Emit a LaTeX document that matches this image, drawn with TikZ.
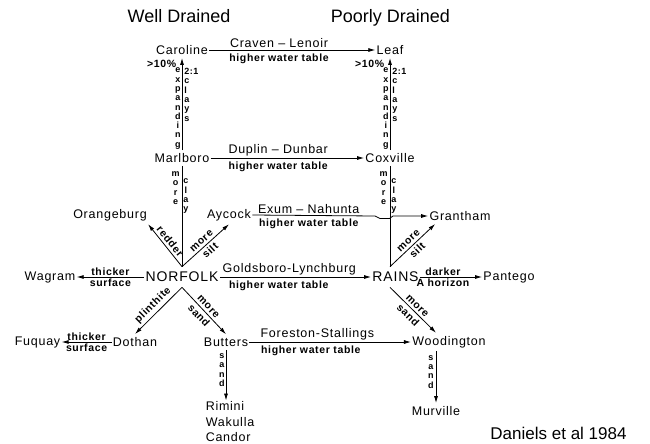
\documentclass[tikz,border=0pt]{standalone}
\usepackage{fontspec}
\setmainfont{Liberation Sans}
\newfontfamily\lettering[LetterSpace=6]{Liberation Sans}
\usetikzlibrary{arrows.meta}

\tikzset{
  soil/.style={font=\lettering\fontsize{12.5}{15.5}\selectfont, inner xsep=1pt, inner ysep=3pt},
  keysoil/.style={font=\lettering\fontsize{14}{16}\selectfont, inner xsep=1pt, inner ysep=5pt},
  pair/.style={font=\lettering\fontsize{12.5}{14}\selectfont, inner sep=1.5pt},
  trend/.style={font=\lettering\bfseries\fontsize{10.5}{11}\selectfont, inner sep=1.5pt},
  letters/.style={font=\lettering\bfseries\fontsize{9}{9.3}\selectfont, align=center, inner sep=0pt},
  heading/.style={font=\fontsize{18}{20}\selectfont, anchor=base},
}

\begin{document}
\begin{tikzpicture}[x=10pt, y=-10pt, line width=0.8pt, >={Latex[length=7pt,width=4pt]}]
    \useasboundingbox (0,0) rectangle (65,44.4);
    % Drainage sequence of soils around Norfolk and Rains

    % Headings
    \node[heading] (welltitle) at (17.9,2.25) {Well Drained};
    \node[heading] (poortitle) at (39.05,2.25) {Poorly Drained};

    % Well drained soils
    \node[soil] (caroline) at (18.2,5.0) {Caroline};
    \node[soil] (marlboro) at (18.2,15.8) {Marlboro};
    \node[soil] (orangeburg) at (11.0,21.5) {Orangeburg};
    \node[soil] (aycock) at (22.9,21.5) {Aycock};
    \node[keysoil] (norfolk) at (18.2,27.7) {NORFOLK};
    \node[soil] (wagram) at (5.0,27.7) {Wagram};
    \node[soil] (dothan) at (13.5,34.2) {Dothan};
    \node[soil] (fuquay) at (3.75,34.2) {Fuquay};
    \node[soil] (butters) at (22.6,34.2) {Butters};
    \node[soil, align=left, inner ysep=1pt] (rimini) at (23.0,42.2) {Rimini\\Wakulla\\Candor};

    % Poorly drained soils
    \node[soil] (leaf) at (39.0,5.0) {Leaf};
    \node[soil] (coxville) at (39.0,15.8) {Coxville};
    \node[soil] (grantham) at (46.0,21.6) {Grantham};
    \node[keysoil] (rains) at (39.55,27.7) {RAINS};
    \node[soil] (pantego) at (50.9,27.7) {Pantego};
    \node[soil] (woodington) at (44.9,34.2) {Woodington};
    \node[soil] (murville) at (43.6,41.1) {Murville};
    \coordinate (rainsN) at (rains.north -| coxville.south);
    \coordinate (rainsS) at (rains.south -| coxville.south);

    % Source
    \node[font=\fontsize{17}{19}\selectfont] (source) at (55.85,43.3) {Daniels et al 1984};

    % Higher water table
    \draw[->] (caroline) -- (leaf)
        node[pair, pos=0.42, above] {Craven – Lenoir}
        node[trend, pos=0.42, below=1.5pt] {higher water table};
    \draw[->] (marlboro) -- (coxville)
        node[pair, pos=0.44, above] {Duplin – Dunbar}
        node[trend, pos=0.44, below=1.5pt] {higher water table};
    \draw[->] (aycock.east) -- (37.5,21.6)
        node[pair, pos=0.46, above] {Exum – Nahunta}
        node[trend, pos=0.46, below=1.5pt] {higher water table}
        to[out=0,in=180] (38.0,21.85) -- (38.95,21.85)
        to[out=0,in=180] (39.3,21.6) -- (grantham.west);
    \draw[->] (norfolk) -- (rains)
        node[pair, pos=0.46, above] {Goldsboro-Lynchburg}
        node[trend, pos=0.39, below=1.5pt] {higher water table};
    \draw[->] (butters) -- (woodington)
        node[pair, pos=0.42, above] {Foreston-Stallings}
        node[trend, pos=0.38, below=1.5pt] {higher water table};

    % Clay
    \draw[->] (marlboro) -- (caroline)
        node[letters, pos=0.45, left=1pt] {e\\x\\p\\a\\n\\d\\i\\n\\g}
        node[letters, align=left, pos=0.6, right=2pt] {2:1\\c\\l\\a\\y\\s}
        node[trend, pos=0.94, left=4pt] {>10\%};
    \draw[->] (coxville) -- (leaf)
        node[letters, pos=0.45, left=1pt] {e\\x\\p\\a\\n\\d\\i\\n\\g}
        node[letters, align=left, pos=0.6, right=2pt] {2:1\\c\\l\\a\\y\\s}
        node[trend, pos=0.94, left=4pt] {>10\%};
    \draw (marlboro) -- (norfolk)
        node[letters, pos=0.22, left=2pt] {m\\o\\r\\e}
        node[letters, pos=0.3, right=1pt] {c\\l\\a\\y};
    \draw (coxville) -- (rainsN)
        node[letters, pos=0.22, left=2pt] {m\\o\\r\\e}
        node[letters, pos=0.3, right=1pt] {c\\l\\a\\y};

    % Around Norfolk
    \draw[->] (norfolk.north) -- (orangeburg.south east)
        node[trend, midway, sloped, above=1pt] {redder};
    \draw[->] (norfolk.north) -- (aycock.south)
        node[trend, midway, sloped, above=1pt] {more}
        node[trend, midway, sloped, below=1pt] {silt};
    \draw[->] (norfolk) -- (wagram)
        node[trend, midway, above] {thicker}
        node[trend, midway, below] {surface};
    \draw[->] (norfolk.south) -- (dothan.north)
        node[trend, midway, sloped, above=1pt] {plinthite};
    \draw[->] (norfolk.south) -- (butters.north)
        node[trend, midway, sloped, above=1pt] {more}
        node[trend, midway, sloped, below=1pt] {sand};
    \draw[->] (dothan) -- (fuquay)
        node[trend, midway, above] {thicker}
        node[trend, midway, below] {surface};
    \draw[->] (butters.south) -- (butters.south |- rimini.north)
        node[letters, pos=0.4, left=1pt] {s\\a\\n\\d};

    % Around Rains
    \draw[->] (rainsN) -- ([xshift=7pt]grantham.south west)
        node[trend, midway, sloped, above=1pt] {more}
        node[trend, midway, sloped, below=1pt] {silt};
    \draw[->] (rains) -- (pantego)
        node[trend, pos=0.37, above] {darker}
        node[trend, pos=0.37, below] {A horizon};
    \draw[->] (rainsS) -- (woodington.north -| murville.north)
        node[trend, midway, sloped, above=1pt] {more}
        node[trend, midway, sloped, below=1pt] {sand};
    \draw[->] (woodington.south -| murville.north) -- (murville.north)
        node[letters, pos=0.4, left=2pt] {s\\a\\n\\d};
\end{tikzpicture}
\end{document}
